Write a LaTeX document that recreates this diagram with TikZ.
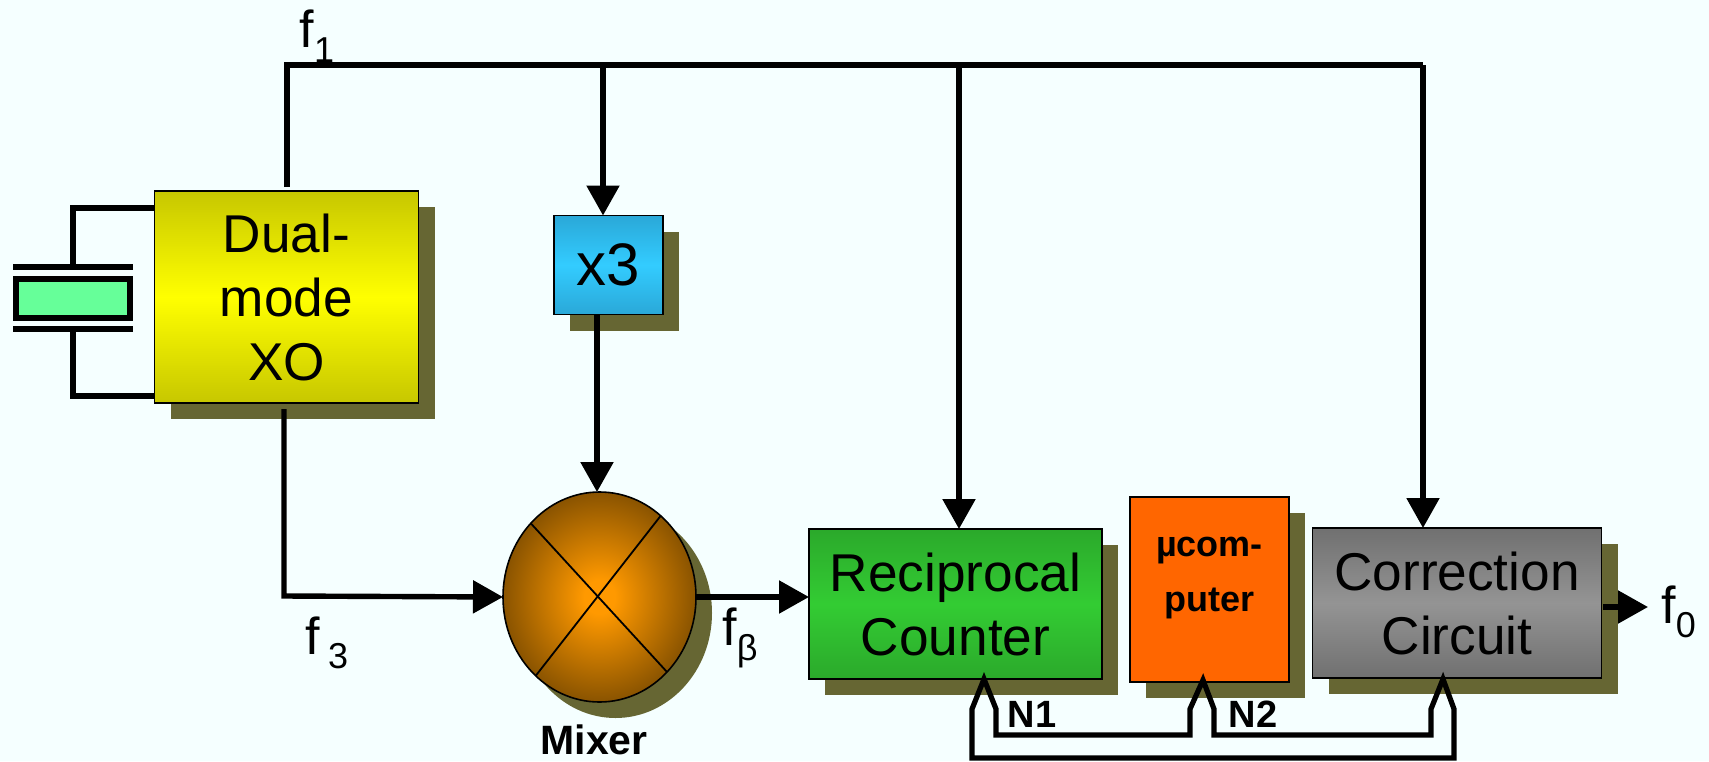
\documentclass[tikz,border=0pt]{standalone}
\usepackage{fontspec}
\setmainfont{Liberation Sans}
\usetikzlibrary{arrows.meta,shadows,shapes.geometric}

\definecolor{bgcol}{HTML}{F5FFFF}
\definecolor{shadowcol}{HTML}{666633}
\definecolor{quartzcol}{HTML}{66FF99}
\definecolor{orangecol}{HTML}{FF6600}
\definecolor{mixerin}{HTML}{FF9900}
\definecolor{mixerout}{HTML}{734600}
\definecolor{blueedge}{HTML}{2AA8D8}
\definecolor{bluemid}{HTML}{33CCFF}
\definecolor{greenedge}{HTML}{2BA92B}
\definecolor{greenmid}{HTML}{33CC33}
\pgfdeclareradialshading{mixerglow}{\pgfpointorigin}{color(0bp)=(mixerin); color(4bp)=(mixerin); color(29bp)=(mixerout); color(50bp)=(mixerout)}
\newcommand{\freq}[1]{f\raisebox{-0.28em}{\fontsize{18}{18}\selectfont #1}}

\begin{document}
\begin{tikzpicture}[x=0.5pt,y=-0.5pt,>={Triangle[length=15pt,width=16pt]},
    block/.style={draw=black,line width=0.8pt,inner sep=0pt,outer sep=0pt,align=center,
        font=\fontsize{26.6}{32}\selectfont,
        general shadow={fill=shadowcol,shadow xshift=8pt,shadow yshift=-8pt}},
    wire/.style={line width=2.7pt},
    thinwire/.style={draw=black,line width=2.6pt,line join=miter,miter limit=10},
    lbl/.style={inner sep=0pt,font=\fontsize{26}{31}\selectfont},
    boldlbl/.style={inner sep=0pt,font=\bfseries\fontsize{19}{22}\selectfont}]
    \path[fill=bgcol,use as bounding box] (0,0) rectangle (1709,761);

    \node[block,minimum width=132pt,minimum height=106pt,top color=yellow!78!black,bottom color=yellow!78!black,middle color=yellow] (xo) at (286.5,297) {Dual-\\mode\\XO};
    \node[block,minimum width=54.5pt,minimum height=49.5pt,top color=blueedge,bottom color=blueedge,middle color=bluemid,font=\fontsize{30}{32}\selectfont] (x3) at (608.5,265) {x3};
    \node[block,ellipse,minimum width=96.5pt,minimum height=105pt,shade,shading=mixerglow] (mixer) at (599.5,597) {};
    \node[block,minimum width=146.5pt,minimum height=75pt,top color=greenedge,bottom color=greenedge,middle color=greenmid] (recip) at (955.5,604) {Reciprocal\\Counter};
    \node[block,minimum width=79.5pt,minimum height=92.5pt,fill=orangecol,font=\bfseries\fontsize{18}{27.5}\selectfont] (ucomp) at (1209.5,589.5) {\textmu com-\\puter\\[-12.5pt]~};
    \node[block,minimum width=144.5pt,minimum height=75pt,top color=black!56,bottom color=black!56,middle color=black!42] (corr) at (1457,603) {Correction\\Circuit};

    \coordinate (busstart) at (287,65);
    \coordinate (busthree) at (603,65);
    \coordinate (busrecip) at (959,65);
    \coordinate (buscorr) at (1423,65);
    \coordinate (xosouth) at (284,409);
    \coordinate (fthree) at (284,596);
    \coordinate (fzero) at (1603,607);
    \coordinate (fzerotip) at (1648,607);
    \coordinate (xthreeout) at (597,314);

    \draw[wire] (287,187) -- (busstart) -- (buscorr);
    \path[wire,->]
    (busthree) edge (busthree |- x3.north)
    (busrecip) edge (busrecip |- recip.north)
    (buscorr) edge (buscorr |- corr.north)
    (xthreeout) edge (xthreeout |- mixer.north)
    (mixer.east) edge (recip.west |- mixer.east)
    (fzero) edge (fzerotip)
    ;
    \draw[wire,->] (xosouth) -- (fthree) -- (mixer.west);

    \draw[line width=0.9pt] (mixer.133) -- (mixer.312);
    \draw[line width=0.9pt] (mixer.53) -- (mixer.231);

    \coordinate (topwire) at (154,208);
    \coordinate (botwire) at (154,396);
    \draw[wire] (topwire) -| (73,266);
    \draw[wire] (botwire) -| (73,329);
    \draw[line width=2.8pt] (13,267) -- (133,267);
    \draw[line width=2.8pt] (13,329) -- (133,329);
    \node[draw=black,line width=3pt,fill=quartzcol,inner sep=0pt,minimum width=57pt,minimum height=19.5pt] (quartz) at (73,298.5) {};

    \coordinate (recipbus) at (984,679);
    \coordinate (ucompbus) at (1203,680);
    \coordinate (corrbus) at (1443,679);
    \draw[thinwire] (recipbus) -- (972,709) -- (972,758) -- (1454,758) -- (1454,709) -- (corrbus)
    -- (1431,709) -- (1431,735) -- (1214,735) -- (1214,709) -- (ucompbus)
    -- (1190,709) -- (1190,735) -- (996,735) -- (996,709) -- cycle;

    \node[lbl] (fone) at (317,36) {\freq{1}};
    \node[lbl] (fthreelbl) at (327,643) {f\hspace{0.15em}\raisebox{-0.28em}{\fontsize{18}{18}\selectfont 3}};
    \node[lbl] (fbeta) at (740,638) {\freq{β}};
    \node[lbl,anchor=west] (fzerolbl) at (1661,612) {\freq{0}};
    \node[boldlbl] (none) at (1032,714) {N1};
    \node[boldlbl] (ntwo) at (1253,714) {N2};
    \node[boldlbl,font=\bfseries\fontsize{20.5}{24}\selectfont] (mixerlbl) at (594,740) {Mixer};
\end{tikzpicture}
\end{document}
